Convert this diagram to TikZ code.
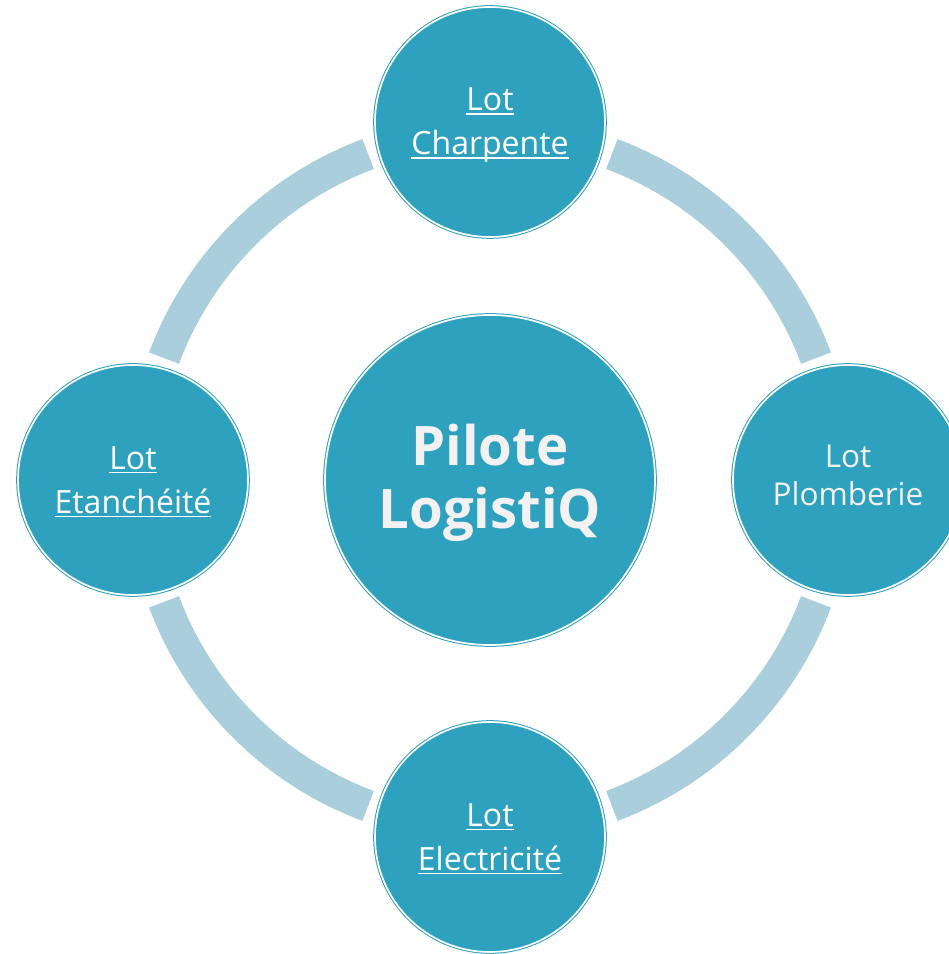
\documentclass[tikz,border=0pt]{standalone}
\usepackage{fontspec}
\setmainfont{Open Sans}
\definecolor{nodeblue}{RGB}{46,161,191}
\definecolor{ringblue}{RGB}{170,206,220}
\definecolor{softwhite}{RGB}{242,242,242}
\newcommand\myul[1]{\setbox0\hbox{#1}\rlap{\rule[-4pt]{\wd0}{1.8pt}}\box0}
\begin{document}
\begin{tikzpicture}[x=1pt,y=1pt,
  ringarc/.style={draw=ringblue, line width=32pt, line cap=butt},
  basecirc/.style={circle, fill=nodeblue, draw=nodeblue, double=white,
    double distance=1.7pt, line width=1pt, inner sep=0pt},
  lotnode/.style={basecirc, minimum size=230pt},
  pilotnode/.style={basecirc, minimum size=330pt},
  lottext/.style={align=center, inner sep=0pt, text=white,
    font=\fontsize{32}{44}\selectfont},
  plombtext/.style={align=center, inner sep=0pt, text=softwhite,
    font=\fontsize{31.5}{38}\selectfont},
  pilottext/.style={align=center, inner sep=0pt, text=softwhite,
    font=\bfseries\fontsize{54.5}{63}\selectfont}]
\useasboundingbox (0,0) rectangle (949,954);
\coordinate (c0) at (490,474);
% ring arcs
\foreach \a in {20.5,110.5,200.5,290.5}{
  \draw[ringarc] ([shift={(\a:348)}]c0) arc[start angle=\a, end angle=\a+49, radius=348];
}
\node[pilotnode] (pilot) at (c0) {};
\node[pilottext] (pilott) at ([yshift=-3]pilot.center) {Pilote\\LogistiQ};
\node[lotnode] (charp) at (490,832) {};
\node[lottext] (charpt) at ([yshift=-3]charp.center) {\myul{Lot}\\\myul{Charpente}};
\node[lotnode] (plomb) at (848,474) {};
\node[plombtext] (plombt) at ([yshift=5]plomb.center) {Lot\\Plomberie};
\node[lotnode] (elec) at (490,117) {};
\node[lottext] (elect) at ([yshift=-2]elec.center) {\myul{Lot}\\\myul{Electricité}};
\node[lotnode] (etan) at (133,474) {};
\node[lottext] (etant) at ([yshift=-2]etan.center) {\myul{Lot}\\\myul{Etanchéité}};
\end{tikzpicture}
\end{document}
